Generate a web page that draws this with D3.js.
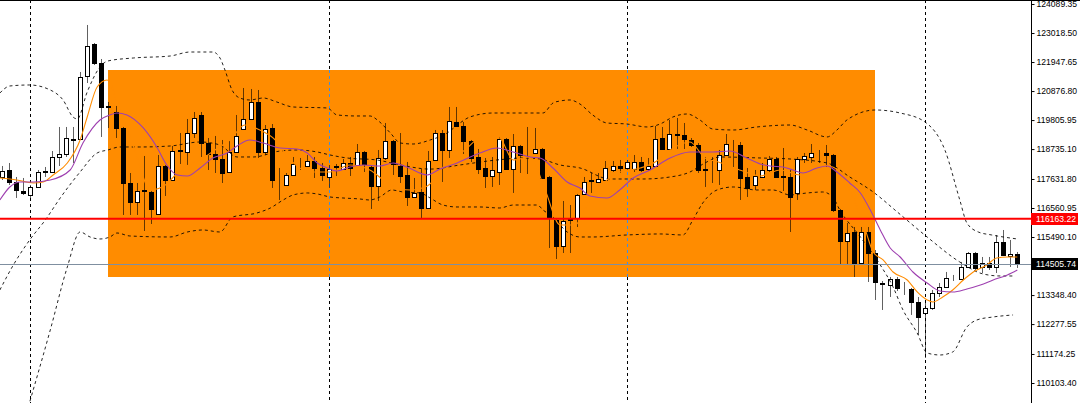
<!DOCTYPE html>
<html><head><meta charset="utf-8">
<script src="https://cdn.jsdelivr.net/npm/d3@7"></script>
<style>html,body{margin:0;padding:0;background:#fff;overflow:hidden}svg{display:block}</style>
</head><body>
<svg id="chart" width="1080" height="403"></svg>
<script>
// ---------- DATA ----------
const opens = [117706,117964,117521,117189,117042,117337,117872,117890,118444,118554,
119108,119108,121433,122614,121912,120307,120104,119514,117484,116783,
117226,117152,116340,118112,117595,118665,118628,119329,119994,118960,
118554,118370,117890,118628,119477,119846,120473,118628,119514,117595,
117411,117780,118167,118112,118296,118038,117706,118075,118001,118222,
118149,118628,118075,117374,118407,119034,118112,117780,116968,117152,
116562,118333,119329,118702,119735,119588,119034,118444,118038,117743,
117890,119108,118001,118850,118591,118591,118739,117706,116119,115160,
116119,116193,117079,117558,117521,117595,117964,118112,118038,118001,
118259,118001,118112,119145,118739,119274,119255,119071,118887,118001,
117983,117964,118518,118923,118887,117706,117411,117706,117964,118370,
117724,117706,117116,118370,118444,118591,118591,118518,116488,115344,
115676,114533,115676,114901,113794,113720,113942,113610,113573,113093,
112688,112872,113426,113647,113961,113942,114385,114901,114385,114533,
114385,115307,114791,114865];
const highs = [118112,118222,117706,117669,117411,117964,118075,118665,119551,119551,
119551,121580,123315,122650,122060,120473,120326,119551,117853,117484,
118481,117189,118518,118149,118850,119329,119846,120104,120104,119145,
119219,119071,119071,119994,120990,120953,120916,119624,119661,118038,
117853,118444,118407,118518,118444,118222,118149,118185,118370,118444,
118923,118665,118112,118702,119698,119071,119329,118259,117669,118001,
118665,119440,119440,120289,120289,119735,119071,118739,118407,118444,
119182,119145,119292,118887,119551,119514,118776,117743,116156,116820,
116672,117079,117706,117853,117853,118296,118296,118333,118333,118518,
118444,118407,119588,119551,119809,119883,119698,119145,118960,118444,
118444,118702,119292,119071,118997,118038,117964,118222,118481,118444,
118776,117964,118444,118591,118923,118702,118887,118554,116525,116008,
115861,115861,115861,115012,113868,114016,114016,113831,113610,113278,
113057,113536,113794,114201,114090,114570,114938,114938,114754,114754,
115565,115750,115381,114938];
const lows = [117595,117411,116931,117042,116931,117300,117706,117853,118112,118444,
118222,119071,121174,121838,119182,119514,119145,116304,116304,116304,
115713,115971,116304,117005,117558,118185,118149,119145,118444,117964,
117853,117484,117853,118591,119440,119809,118407,118518,117300,116857,
117374,117743,117964,118075,117669,117558,117300,117743,117964,117743,
118112,117890,116525,116820,118333,117780,117484,116636,116931,116156,
116525,118296,117521,118407,119551,118554,118259,117816,117300,117337,
117411,117964,117116,117853,117816,118554,117632,115086,114680,114901,
114901,115860,117042,117116,117484,117558,117890,117853,117964,117890,
117890,117927,118075,118702,118702,118739,118739,118813,117853,117337,
117484,117411,118481,118075,116857,116968,117226,117669,117890,117669,
117189,115676,116857,118222,118222,118222,118075,116414,114496,114496,
114016,114459,113831,113167,112798,113278,113499,113352,112614,111876,
111027,112798,113278,113610,113868,113905,114348,114274,114163,114274,
114163,114791,114385,114348];
const closes = [117927,117521,117226,117116,117337,117890,117909,118444,118554,119145,
119071,121396,122540,121912,120289,120270,119514,117484,116783,117189,
117189,116525,118112,117595,118665,118684,119329,119883,118960,118554,
118370,117853,118628,119219,119846,120473,118628,119477,117595,117577,
117780,118185,118185,118296,118038,117780,118001,118093,118222,118038,
118628,118185,117374,118407,119034,118185,117743,116968,117116,116562,
118296,119329,118702,119772,119588,119034,118407,118001,117743,117964,
119108,118001,118850,118518,118573,118739,117669,116193,115160,116082,
116137,117042,117521,117577,117632,118038,118112,118038,118259,118259,
117964,118112,119108,118739,119292,119255,119108,118887,117964,117964,
118001,118518,118923,118905,117669,117300,117743,117964,118370,117706,
117706,116968,118370,118481,118591,118573,118518,116488,115344,115640,
114533,115676,114901,113831,113757,113942,113610,113591,113093,112540,
112872,113426,113647,113979,113979,114385,114901,114348,114533,114385,
115307,114828,114865,114505.74];

// Bollinger bands read as [bar, price]
const bbUpper = [[-0.3,120805],[1.1,121064],[3.9,121101],[6.8,120916],[8.6,120547],[10,119920],[10.6,119846],[12,120842],[13.8,121765],[14.9,121986],[18.5,122097],[23.7,122171],[26.5,122318],[29.7,122318],[30.7,122097],[31.4,121654],[32.4,120916],[33.5,120621],[34.9,120547],[36.8,120621],[38.7,120473],[41,120289],[45.8,120252],[47.2,119994],[50,119957],[51.8,119957],[53.2,119735],[54.7,119329],[56.1,118960],[57.9,118923],[60.3,119071],[62.7,119329],[64.5,119698],[65.9,119920],[69.2,120067],[73,120067],[76.2,120067],[77.6,120436],[78.6,120510],[80,120547],[81.4,120399],[83.2,119994],[85.2,119698],[88,119661],[90.9,119551],[92.7,119661],[94.5,119920],[96.5,120031],[98.3,119809],[100.1,119477],[103,119440],[106.3,119551],[111,119624],[113.4,119440],[116.2,119182],[117.6,119440],[119,119809],[123,120178],[126.5,120067],[130,119735],[132.8,118702],[134.9,116857],[135.9,116008],[137.5,115676],[139.4,115566],[143,115418]];
const bbMiddle = [[-0.3,113536],[1.6,114459],[3.9,115381],[6.1,116119],[8.2,116931],[11,117890],[13.4,118591],[14.9,118702],[16.6,118813],[19.4,118813],[23.7,118850],[27.9,118997],[30.7,118887],[33.1,118444],[35.4,118444],[39.2,118665],[41.6,118702],[44.4,118628],[46.2,118518],[48.6,118407],[52.8,118333],[56.1,118149],[60.3,117997],[64.5,118149],[69.7,118333],[73.4,118407],[75.8,118370],[78.6,118149],[81.4,118038],[85.6,117632],[90.3,117632],[94.1,117706],[96.9,117890],[99,118222],[101.1,118444],[106.8,118407],[111,118370],[116.2,118222],[119.4,117706],[122.7,117152],[126.1,116414],[130.3,115492],[134.9,114569],[138.2,114126],[140.6,114053],[142.7,114053]];
const bbLower = [[3.7,109219],[6.8,112060],[9.2,114385],[11,115676],[12.4,115492],[13.8,115418],[15.2,115492],[16.2,115639],[18,115529],[23.7,115492],[26.1,115676],[28.3,115750],[30.7,115676],[32.5,116230],[35.9,116377],[37.8,116562],[39.6,116857],[41,117042],[43,117116],[44.4,117079],[46.2,116968],[48,116931],[50.4,116894],[51.8,116857],[53.2,116968],[54.9,117226],[56.5,117152],[58.9,117116],[60.3,116931],[62.1,116672],[64.1,116599],[67.3,116599],[70.1,116562],[72,116672],[75.4,116672],[76.2,116488],[77.6,116230],[79.6,115676],[81.4,115492],[83.2,115492],[88,115566],[92.7,115603],[95.9,115566],[97.3,116119],[98.7,116746],[100.7,117226],[103,117337],[106.3,117226],[108.6,117226],[111,117042],[113.4,117116],[115.6,117152],[117,116968],[118,116488],[120.9,115492],[123.7,114459],[125.5,113647],[126.9,112798],[128.9,111949],[130.3,111211],[132.1,111137],[133.9,111248],[135.9,112171],[137.3,112429],[139.6,112540],[142.4,112614]];
// moving averages read as [bar, price]
const maFast = [[-0.3,117669],[2.1,117595],[4.4,117484],[5.8,117521],[7.2,117780],[9.2,118222],[11,119071],[12,119920],[13.4,121027],[14.8,121285],[16.6,120178],[18.7,118702],[20.9,117226],[23,117411],[25.1,117964],[27.9,118333],[30,118702],[32.1,119071],[34.2,119624],[36.3,119440],[38.5,119071],[40.6,118333],[43.4,117890],[46.2,117890],[49,118149],[51.8,117964],[54.7,117411],[57.5,117226],[59.9,117374],[62.4,118149],[65.2,118702],[68,119255],[70.1,119145],[72,118333],[74.4,118444],[76.5,117226],[78.6,115934],[80.7,115934],[82.8,116857],[84.9,117521],[87,117890],[89.9,118038],[92,118259],[94.1,118702],[96.9,118997],[99,118407],[100.9,118259],[103.9,117964],[106.8,117743],[109.6,117964],[112.4,117780],[115.2,118149],[117,118075],[119.4,117226],[121.6,115750],[122.7,114938],[124.1,114643],[125.5,114200],[127.5,113905],[128.9,113462],[130.3,113167],[131.1,113093],[132.5,113278],[133.9,113536],[135.4,113905],[136.8,114200],[138.7,114459],[140.1,114717],[141.6,114753],[143,114753]];
const maSlow = [[-0.3,116857],[1.1,117337],[2.5,117521],[4.4,117521],[6.8,117595],[9.6,117964],[11.4,118960],[13.8,119809],[15.2,119994],[16.2,120067],[17.6,119994],[19.9,119514],[21.8,118813],[23.2,118149],[24.7,117780],[26.1,117743],[27.9,118038],[29.7,118407],[31.7,118591],[33.1,118850],[34.9,119071],[36.8,118960],[39.2,118776],[41.6,118739],[43,118591],[44.4,118222],[45.8,118038],[47.2,117927],[49,118075],[50.9,118149],[53.2,118112],[55.1,118222],[57,118075],[59.9,117780],[61.7,118001],[64.1,118222],[67.3,118591],[69.7,118776],[72,118628],[74.4,118444],[75.8,118407],[77.6,118038],[79.6,117521],[81.4,117300],[82.8,117005],[85.2,116931],[87,117226],[88.9,117669],[91.3,117964],[94.1,118407],[96.9,118628],[100.1,118628],[102.5,118665],[104.9,118407],[106.8,118185],[108.2,118112],[110,118075],[111.4,117964],[112.8,117853],[114.8,118038],[116.2,118112],[117.6,117890],[119.4,117484],[120.9,117116],[122.3,116488],[123.7,115750],[125.1,115086],[126.5,114753],[128.3,114200],[130.3,113794],[132.1,113499],[133.9,113462],[135.9,113573],[137.8,113720],[139.6,113905],[141.6,114090],[143,114274]];

const yTickLabels = ["124089.35","123018.50","121947.65","120876.80","119805.95","118735.10","117631.80","116560.95","115490.10","114419.25","113348.40","112277.55","111174.25","110103.40"];
const gridBars = [4, 46, 88, 130];
const zoneBars = [15, 123];          // rectangle time anchors
const zonePrices = [121654, 114032]; // rectangle price anchors
const redLevel = 116163.22;
const lastPrice = 114505.74;

// ---------- DRAW ----------
const W = 1080, H = 403, plotR = 1031;
const svg = d3.select("#chart");
const x = d3.scaleLinear().domain([0, 143]).range([2, 1017.3]);
const y = d3.scaleLinear().domain([110103.40, 124089.35]).range([383, 4]);

svg.append("rect").attr("width", W).attr("height", H).attr("fill", "#fff");
svg.append("defs").append("clipPath").attr("id", "plot")
  .append("rect").attr("x", 0).attr("y", 0).attr("width", plotR).attr("height", H);
const g = svg.append("g").attr("clip-path", "url(#plot)");

// zone rectangle
const zx0 = x(zoneBars[0]), zx1 = x(zoneBars[1]);
const zy0 = y(zonePrices[0]), zy1 = y(zonePrices[1]);
g.append("rect").attr("x", Math.round(zx0)).attr("y", Math.round(zy0))
  .attr("width", Math.round(zx1) - Math.round(zx0)).attr("height", Math.round(zy1) - Math.round(zy0))
  .attr("fill", "#ff8c00");

// vertical grid
gridBars.forEach(b => {
  const gx = Math.round(x(b)) + 0.5;
  const inside = gx > zx0 && gx < zx1;
  if (inside) {
    [[0, Math.round(zy0)], [Math.round(zy1), H]].forEach(s => g.append("line")
      .attr("x1", gx).attr("x2", gx).attr("y1", s[0]).attr("y2", s[1])
      .attr("stroke", "#000").attr("stroke-dasharray", "3,3"));
    g.append("line").attr("x1", gx).attr("x2", gx).attr("y1", Math.round(zy0)).attr("y2", Math.round(zy1))
      .attr("stroke", "#3d8fe6").attr("stroke-dasharray", "3,3");
  } else {
    g.append("line").attr("x1", gx).attr("x2", gx).attr("y1", 0).attr("y2", H)
      .attr("stroke", "#000").attr("stroke-dasharray", "3,3");
  }
});

// candles
const candles = d3.range(opens.length).map(i => ({i, o: opens[i], h: highs[i], l: lows[i], c: closes[i]}));
const cg = g.append("g");
candles.forEach(d => {
  const cx = Math.round(x(d.i)) + 0.5;
  cg.append("line").attr("x1", cx).attr("x2", cx).attr("y1", y(d.h)).attr("y2", y(d.l))
    .attr("stroke", "#000").attr("stroke-opacity", 0.62).attr("stroke-width", 1);
  const top = Math.round(y(Math.max(d.o, d.c))) + 0.5;
  const bot = Math.round(y(Math.min(d.o, d.c))) + 0.5;
  const bull = d.c > d.o;
  cg.append("rect").attr("x", cx - 2).attr("y", top).attr("width", 4).attr("height", Math.max(0, bot - top))
    .attr("fill", bull ? "#fff" : "#000").attr("stroke", "#000").attr("stroke-width", 1);
});

// bands and MAs
const line = d3.line().x(d => x(d[0])).y(d => y(d[1])).curve(d3.curveMonotoneX);
[bbUpper, bbMiddle, bbLower].forEach(arr => {
  g.append("path").attr("d", line(arr)).attr("fill", "none").attr("stroke", "#000")
    .attr("stroke-width", 1).attr("stroke-dasharray", "3,3").attr("stroke-opacity", 0.85);
});
g.append("path").attr("d", line(maFast)).attr("fill", "none").attr("stroke", "#ff8c00").attr("stroke-width", 1.1);
g.append("path").attr("d", line(maSlow)).attr("fill", "none").attr("stroke", "#9e3fb0").attr("stroke-width", 1.1);

// horizontal levels
g.append("line").attr("x1", 0).attr("x2", plotR).attr("y1", y(redLevel)).attr("y2", y(redLevel))
  .attr("stroke", "#ff0000").attr("stroke-width", 2);
g.append("line").attr("x1", 0).attr("x2", plotR).attr("y1", Math.round(y(lastPrice)) + 0.5).attr("y2", Math.round(y(lastPrice)) + 0.5)
  .attr("stroke", "#7f8fa0").attr("stroke-width", 1);

// axis
const axis = d3.axisRight(y).tickValues(yTickLabels.map(Number)).tickSize(3).tickPadding(2)
  .tickFormat((d, i) => yTickLabels[i]);
const ag = svg.append("g").attr("transform", `translate(${plotR + 0.5},0)`).call(axis);
ag.select(".domain").attr("stroke", "#000").attr("d", `M0,0V${H}`);
ag.selectAll(".tick line").attr("stroke", "#000");
ag.selectAll(".tick text").attr("font-family", "Liberation Sans, Arial, sans-serif").attr("font-size", "8.6px").attr("fill", "#000");
// the tick label hidden under the last-price marker is not shown in the reference
ag.selectAll(".tick text").filter(d => Math.abs(y(d) - y(lastPrice)) < 6).remove();

// price labels
function priceLabel(v, bg) {
  const yy = Math.round(y(v));
  svg.append("rect").attr("x", plotR).attr("y", yy - 6).attr("width", 47).attr("height", 12).attr("fill", bg);
  svg.append("text").attr("x", plotR + 5).attr("y", yy).attr("dy", "0.35em")
    .attr("font-family", "Liberation Sans, Arial, sans-serif").attr("font-size", "8.6px").attr("fill", "#fff")
    .text(v.toFixed(2));
}
priceLabel(redLevel, "#ff0000");
priceLabel(lastPrice, "#000");

// top frame
svg.append("line").attr("x1", 0).attr("x2", W).attr("y1", 0.5).attr("y2", 0.5).attr("stroke", "#000");
</script>
</body></html>
